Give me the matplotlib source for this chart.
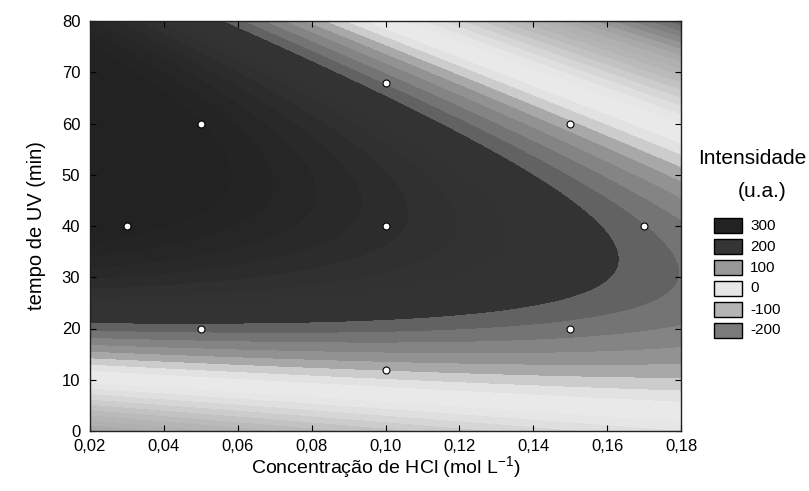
import numpy as np
import matplotlib
matplotlib.use("Agg")
import matplotlib.pyplot as plt
from matplotlib.patches import Rectangle

plt.rcParams['font.family'] = ['Liberation Sans', 'DejaVu Sans']

# planejamento composto central: HCl (mol/L), tempo de UV (min), intensidade (u.a.)
conc_hcl = [0.03, 0.05, 0.05, 0.10, 0.10, 0.10, 0.15, 0.15, 0.17]
tempo_uv = [40, 20, 60, 12, 40, 68, 20, 60, 40]
intensidade = [415, 185, 401, 77, 309, 170, 163, 80, 176]

legend_levels = ['300', '200', '100', '0', '-100', '-200']
legend_colors = ['#222222', '#353535', '#999999', '#e6e6e6', '#b4b4b4', '#7a7a7a']

# ajuste do modelo quadratico
x = np.array(conc_hcl)
y = np.array(tempo_uv, dtype=float)
A = np.column_stack([np.ones_like(x), x, y, x**2, y**2, x*y])
b, *_ = np.linalg.lstsq(A, np.array(intensidade, dtype=float), rcond=None)

gx, gy = np.meshgrid(np.linspace(0.02, 0.18, 400), np.linspace(0, 80, 400))
gz = b[0] + b[1]*gx + b[2]*gy + b[3]*gx**2 + b[4]*gy**2 + b[5]*gx*gy

# niveis de 25 em 25 e escala de cinza
levels = np.arange(-450, 476, 25)
mids = levels[:-1] + 12.5
anc_v = [-437.5, -387.5, -362.5, -337.5, -312.5, -287.5, -262.5, -237.5, -212.5, -187.5, -162.5,
         -137.5, -112.5, -87.5, -62.5, -37.5, -12.5, 12.5, 37.5, 62.5, 87.5, 112.5, 137.5, 162.5,
         187.5, 212.5, 262.5, 287.5, 312.5, 337.5, 362.5, 387.5, 412.5]
anc_g = [0x60, 0x68, 0x74, 0x80, 0x8a, 0x96, 0xa2, 0xaa, 0xb0, 0xb4, 0xba,
         0xc2, 0xcc, 0xd6, 0xdf, 0xe6, 0xe9, 0xe9, 0xe2, 0xcc, 0xa8, 0x92, 0x84, 0x74,
         0x62, 0x33, 0x32, 0x30, 0x2c, 0x29, 0x26, 0x24, 0x22]
grays = np.interp(mids, anc_v, anc_g) / 255.0
band_colors = [(g, g, g) for g in grays]

fig = plt.figure(figsize=(8.09, 4.91), dpi=100)
ax = fig.add_axes([90/809, 1 - 431/491, 591/809, 410/491])
gz = np.clip(gz, levels[0] + 1, levels[-1] - 1)
ax.contourf(gx, gy, gz, levels=levels, colors=band_colors, antialiased=False)
ax.plot(conc_hcl, tempo_uv, 'o', ms=5, mfc='white', mec='black', mew=0.8, zorder=3)

ax.set_xlim(0.02, 0.18)
ax.set_ylim(0, 80)
xt = np.arange(0.02, 0.181, 0.02)
ax.set_xticks(xt)
ax.set_xticklabels([('%.2f' % v).replace('.', ',') for v in xt])
ax.set_yticks(range(0, 81, 10))
ax.tick_params(direction='in', top=True, right=True, length=4, width=0.8, labelsize=12)
ax.tick_params(axis='x', pad=6)
ax.tick_params(axis='y', pad=7)
for s in ax.spines.values():
    s.set_linewidth(1.0)
    s.set_color('#222222')

ax.set_xlabel('Concentração de HCl (mol L$^{\\mathregular{-1}}$)', fontsize=14, labelpad=0)
ax.set_ylabel('tempo de UV (min)', fontsize=14.5, labelpad=11)

# legenda
fig.text(752/809, 1 - 158/491, 'Intensidade', fontsize=15, ha='center', va='center')
fig.text(762/809, 1 - 191/491, '(u.a.)', fontsize=15, ha='center', va='center')
for i, (lab, col) in enumerate(zip(legend_levels, legend_colors)):
    top = 218 + i*21
    fig.patches.append(Rectangle((714/809, 1 - (top + 15)/491), 28/809, 15/491,
                                 transform=fig.transFigure, facecolor=col, edgecolor='black', lw=1))
    fig.text(750/809, 1 - (top + 7.5)/491, lab, fontsize=11, ha='left', va='center')

fig.savefig('out.png')
